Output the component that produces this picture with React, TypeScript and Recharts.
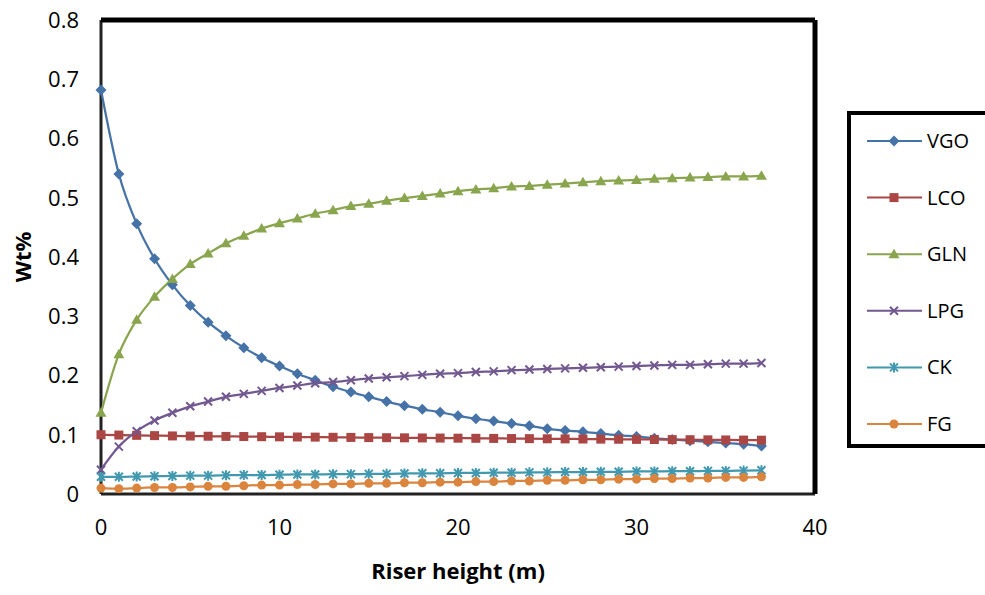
import React from 'react';
import { LineChart, Line, XAxis, YAxis, ReferenceLine } from 'recharts';

const heights = [0, 1, 2, 3, 4, 5, 6, 7, 8, 9, 10, 11, 12, 13, 14, 15, 16, 17, 18, 19, 20, 21, 22, 23, 24, 25, 26, 27, 28, 29, 30, 31, 32, 33, 34, 35, 36, 37];

const vgo = [0.682, 0.540, 0.456, 0.397, 0.353, 0.318, 0.290, 0.267, 0.247, 0.230, 0.216, 0.203, 0.192, 0.181, 0.172, 0.164, 0.156, 0.149, 0.143, 0.138, 0.132, 0.127, 0.123, 0.119, 0.115, 0.110, 0.107, 0.105, 0.102, 0.099, 0.097, 0.094, 0.092, 0.090, 0.088, 0.086, 0.084, 0.081];
const lco = [0.100, 0.0995, 0.099, 0.0985, 0.098, 0.0978, 0.0975, 0.0972, 0.097, 0.0967, 0.0965, 0.0962, 0.096, 0.0957, 0.0955, 0.0952, 0.095, 0.0948, 0.0946, 0.0944, 0.0942, 0.094, 0.0938, 0.0936, 0.0934, 0.0932, 0.093, 0.0928, 0.0926, 0.0924, 0.0922, 0.092, 0.0918, 0.0916, 0.0914, 0.0912, 0.091, 0.0908];
const gln = [0.137, 0.236, 0.294, 0.333, 0.363, 0.388, 0.406, 0.423, 0.436, 0.448, 0.457, 0.465, 0.473, 0.479, 0.486, 0.490, 0.495, 0.4995, 0.503, 0.507, 0.511, 0.514, 0.516, 0.519, 0.520, 0.522, 0.524, 0.526, 0.528, 0.529, 0.530, 0.532, 0.533, 0.534, 0.535, 0.536, 0.536, 0.537];
const lpg = [0.041, 0.080, 0.106, 0.124, 0.137, 0.148, 0.156, 0.164, 0.169, 0.174, 0.179, 0.183, 0.187, 0.189, 0.192, 0.195, 0.197, 0.199, 0.201, 0.203, 0.204, 0.206, 0.207, 0.209, 0.210, 0.211, 0.212, 0.213, 0.214, 0.215, 0.216, 0.217, 0.218, 0.218, 0.219, 0.220, 0.220, 0.221];
const ck = [0.029, 0.029, 0.0295, 0.030, 0.0305, 0.031, 0.031, 0.0315, 0.032, 0.032, 0.0325, 0.033, 0.033, 0.0335, 0.0335, 0.034, 0.034, 0.0345, 0.035, 0.035, 0.0355, 0.0355, 0.036, 0.036, 0.0365, 0.0365, 0.037, 0.037, 0.0375, 0.0375, 0.038, 0.038, 0.0385, 0.0385, 0.039, 0.039, 0.0395, 0.040];
const fg = [0.010, 0.009, 0.010, 0.011, 0.011, 0.012, 0.013, 0.013, 0.014, 0.015, 0.015, 0.016, 0.016, 0.017, 0.017, 0.018, 0.018, 0.019, 0.019, 0.020, 0.020, 0.021, 0.021, 0.022, 0.022, 0.023, 0.023, 0.024, 0.024, 0.025, 0.025, 0.026, 0.026, 0.027, 0.027, 0.028, 0.028, 0.029];

const xTicks = [0, 10, 20, 30, 40];
const yTicks = [0, 0.1, 0.2, 0.3, 0.4, 0.5, 0.6, 0.7, 0.8];

const series = [
  { key: 'VGO', color: '#4572A7', marker: 'diamond' },
  { key: 'LCO', color: '#AA4643', marker: 'square' },
  { key: 'GLN', color: '#89A54E', marker: 'triangle' },
  { key: 'LPG', color: '#71588F', marker: 'x' },
  { key: 'CK', color: '#4198AF', marker: 'star' },
  { key: 'FG', color: '#DB843D', marker: 'circle' },
];

const data = heights.map((h, i) => ({
  h,
  VGO: vgo[i],
  LCO: lco[i],
  GLN: gln[i],
  LPG: lpg[i],
  CK: ck[i],
  FG: fg[i],
}));

const FONT = '"Open Sans", Lato, sans-serif';

const Marker = ({ kind, color, cx, cy }: { kind: string; color: string; cx: number; cy: number }) => {
  switch (kind) {
    case 'diamond':
      return <path d={`M${cx},${cy - 5.5}L${cx + 5.5},${cy}L${cx},${cy + 5.5}L${cx - 5.5},${cy}Z`} fill={color} />;
    case 'square':
      return <rect x={cx - 4.5} y={cy - 4.5} width={9} height={9} fill={color} />;
    case 'triangle':
      return <path d={`M${cx},${cy - 5.5}L${cx + 5.5},${cy + 4}L${cx - 5.5},${cy + 4}Z`} fill={color} />;
    case 'x':
      return (
        <path d={`M${cx - 4},${cy - 4}L${cx + 4},${cy + 4}M${cx + 4},${cy - 4}L${cx - 4},${cy + 4}`} stroke={color} strokeWidth={2} />
      );
    case 'star':
      return (
        <path
          d={`M${cx - 4},${cy - 4}L${cx + 4},${cy + 4}M${cx + 4},${cy - 4}L${cx - 4},${cy + 4}M${cx},${cy - 5}L${cx},${cy + 5}`}
          stroke={color}
          strokeWidth={2}
        />
      );
    default:
      return <circle cx={cx} cy={cy} r={4.5} fill={color} />;
  }
};

const makeDot = (kind: string, color: string) => (props: any) => {
  if (props.cx == null || props.cy == null) return <g key={props.index} />;
  return <Marker key={props.index} kind={kind} color={color} cx={props.cx} cy={props.cy} />;
};

const LegendBox = () => (
  <div
    style={{
      position: 'absolute',
      left: 847,
      top: 111,
      width: 160,
      height: 337,
      border: '4px solid #000',
      background: '#fff',
      boxSizing: 'border-box',
    }}
  >
    <svg width={160} height={337}>
      {series.map((s, i) => {
        const y = 26 + i * 56.6;
        return (
          <g key={s.key}>
            <line x1={16} x2={71} y1={y} y2={y} stroke={s.color} strokeWidth={2} />
            <Marker kind={s.marker} color={s.color} cx={43} cy={y} />
            <text x={76} y={y} dy="0.35em" fontSize={20} fontFamily={FONT} fill="#000">
              {s.key}
            </text>
          </g>
        );
      })}
    </svg>
  </div>
);

const YLabel = (props: any) => {
  const { viewBox } = props;
  const x = viewBox.x + 22;
  const y = viewBox.y + viewBox.height / 2;
  return (
    <text x={x} y={y} transform={`rotate(-90, ${x}, ${y})`} textAnchor="middle" dominantBaseline="central" fontSize={22} fontWeight="bold" fontFamily={FONT} fill="#000">
      Wt%
    </text>
  );
};

const XLabel = (props: any) => {
  const { viewBox } = props;
  const x = viewBox.x + viewBox.width / 2;
  return (
    <text x={x} y={570} textAnchor="middle" dominantBaseline="central" fontSize={22} fontWeight="bold" fontFamily={FONT} fill="#000">
      Riser height (m)
    </text>
  );
};

export default function App() {
  return (
    <div style={{ position: 'fixed', left: 0, top: 0, width: 985, height: 595, overflow: 'hidden', background: '#fff' }}>
      <LineChart width={985} height={595} data={data} margin={{ top: 20, right: 170, bottom: 0, left: 0 }}>
        <XAxis
          dataKey="h"
          type="number"
          domain={[0, 40]}
          ticks={xTicks}
          height={101}
          axisLine={false}
          tickLine={false}
          tick={{ fontSize: 22, fill: '#000', fontFamily: FONT }}
          dy={17}
          label={<XLabel />}
        />
        <YAxis
          type="number"
          domain={[0, 0.8]}
          ticks={yTicks}
          width={101}
          axisLine={false}
          tickLine={false}
          tick={{ fontSize: 22, fill: '#000', fontFamily: FONT }}
          tickFormatter={(v: number) => (v === 0 ? '0' : v.toFixed(1))}
          dx={-14}
          label={<YLabel />}
        />
        <ReferenceLine y={0} stroke="#222" strokeWidth={3} />
        <ReferenceLine x={0} stroke="#222" strokeWidth={3} />
        <ReferenceLine y={0.8} stroke="#000" strokeWidth={5} />
        <ReferenceLine x={40} stroke="#000" strokeWidth={5} />
        {series.map((s) => (
          <Line
            key={s.key}
            type="monotone"
            dataKey={s.key}
            stroke={s.color}
            strokeWidth={2.25}
            dot={makeDot(s.marker, s.color)}
            activeDot={false}
            isAnimationActive={false}
          />
        ))}
      </LineChart>
      <LegendBox />
    </div>
  );
}
